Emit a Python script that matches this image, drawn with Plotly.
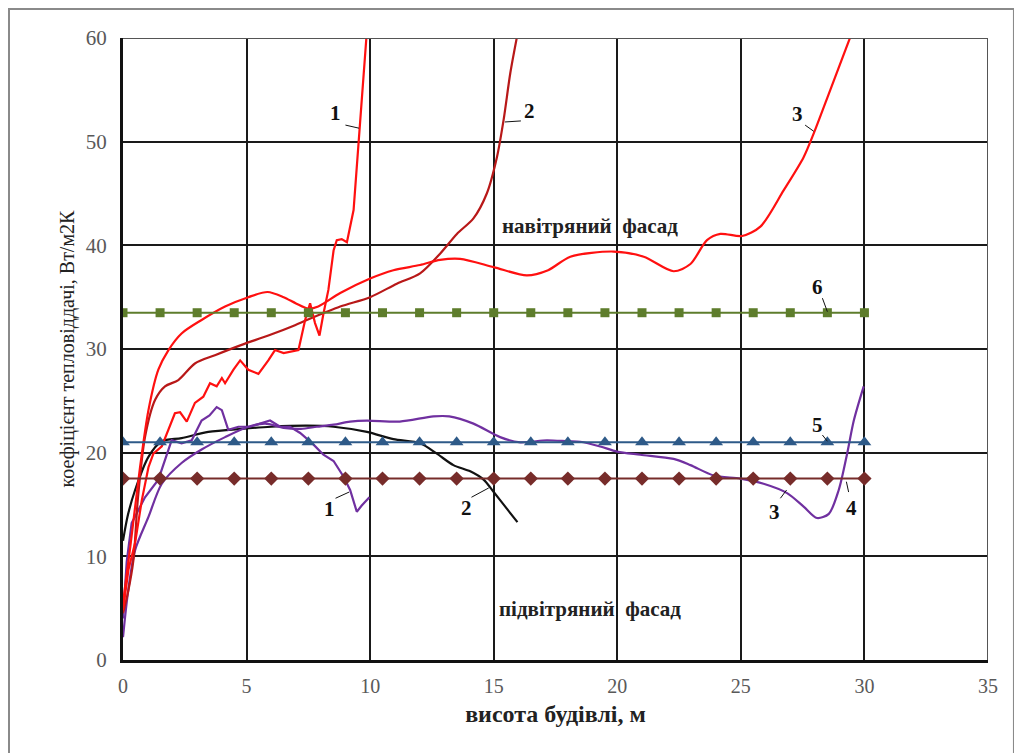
import plotly.graph_objects as go

# ---------------- data ----------------
marker_x = [0, 1.5, 3, 4.5, 6, 7.5, 9, 10.5, 12, 13.5, 15, 16.5, 18, 19.5, 21,
            22.5, 24, 25.5, 27, 28.5, 30]
line6_y = [33.5] * len(marker_x)
line5_y = [21.0] * len(marker_x)
line4_y = [17.5] * len(marker_x)

# windward, curve 1 (jagged, bright red)
w1_x = [0, 0.22, 0.49, 0.76, 1.03, 1.23, 1.57, 1.84, 2.1, 2.31, 2.58, 2.91, 3.25, 3.52,
        3.79, 4.0, 4.13, 4.47, 4.74, 5.07, 5.48, 5.88, 6.15, 6.5, 6.76, 7.1, 7.37, 7.57,
        7.77, 7.95, 8.11, 8.31, 8.52, 8.65, 8.85, 9.06, 9.33, 9.57, 9.85]
w1_y = [4.8, 8.7, 11.3, 15.4, 18.6, 19.9, 20.6, 22.2, 23.8, 23.9, 23.0, 24.8, 25.4, 26.7,
        26.4, 27.2, 26.7, 28.0, 28.9, 28.0, 27.6, 28.9, 29.9, 29.6, 29.7, 29.9, 32.8, 34.4,
        32.5, 31.3, 33.4, 35.7, 39.5, 40.5, 40.6, 40.3, 43.4, 51.4, 60.1]

# windward, curve 2 (dark red)
w2_x = [0, 0.2, 0.42, 0.6, 0.89, 1.3, 1.7, 2.24, 2.91, 3.72, 4.8, 5.88, 6.96, 7.44, 8.79,
        10.0, 11.08, 12.02, 12.83, 13.51, 14.18, 14.72, 15.13, 15.4, 15.67, 15.94]
w2_y = [4.5, 6.5, 9.6, 15.5, 21.5, 25.1, 26.4, 27.0, 28.6, 29.4, 30.4, 31.3, 32.3, 32.8,
        34.1, 35.0, 36.3, 37.3, 39.2, 41.1, 42.6, 45.0, 48.5, 52.1, 56.6, 60.1]

# windward, curve 3 (smooth bright red)
w3_x = [0, 0.3, 0.69, 1.03, 1.43, 1.84, 2.37, 3.18, 4.13, 5.07, 5.85, 6.5, 7.0, 7.5, 7.9,
        8.79, 10.0, 10.94, 12.02, 12.83, 13.64, 15.0, 16.34, 17.2, 18.1, 19.85, 21.07,
        22.28, 22.96, 23.63, 24.17, 25.05, 25.79, 26.73, 27.54, 27.95, 28.62, 29.43]
w3_y = [5.5, 11.0, 18.6, 24.1, 28.0, 29.9, 31.5, 32.8, 34.1, 35.0, 35.5, 35.0, 34.4, 33.9,
        34.1, 35.4, 36.8, 37.6, 38.1, 38.6, 38.7, 37.9, 37.1, 37.6, 38.9, 39.4, 38.9,
        37.5, 38.2, 40.5, 41.1, 40.9, 41.8, 45.3, 48.5, 50.8, 55.0, 60.1]

# leeward, curve 1 (jagged purple)
l1_x = [0, 0.15, 0.35, 0.89, 1.43, 1.84, 1.97, 2.37, 2.78, 3.18, 3.5, 3.79, 4.0, 4.26,
        4.67, 5.14, 5.6, 5.95, 6.36, 6.76, 7.17, 7.7, 8.11, 8.52, 8.92, 9.19, 9.46, 9.66,
        9.97]
l1_y = [4.0, 9.5, 13.2, 15.7, 17.4, 20.3, 21.2, 20.9, 21.2, 23.1, 23.6, 24.4, 24.1, 22.2,
        22.5, 22.5, 22.8, 23.1, 22.5, 22.5, 21.9, 20.8, 19.8, 19.2, 17.7, 16.4, 14.3, 14.9,
        15.7]

# leeward, curve 2 (black)
l2_x = [0, 0.2, 0.49, 1.03, 1.57, 2.37, 3.45, 4.8, 6.0, 7.44, 8.52, 9.87, 10.94, 12.02,
        12.7, 13.37, 14.05, 14.59, 15.0, 15.53, 15.96]
l2_y = [11.5, 14.0, 16.4, 19.6, 21.1, 21.4, 22.0, 22.3, 22.5, 22.6, 22.5, 22.0, 21.3, 20.9,
        19.9, 18.8, 18.2, 17.4, 16.2, 14.6, 13.3]

# leeward, curve 3 (long purple)
l3_x = [0, 0.2, 0.49, 1.03, 1.57, 2.37, 3.18, 4.13, 5.07, 5.75, 6.5, 7.2, 7.84, 8.52,
        9.19, 9.87, 11.2, 12.56, 13.2, 14.18, 15.26, 16.07, 17.15, 18.0, 18.5, 19.31,
        19.99, 20.93, 22.28, 22.96, 23.9, 24.98, 25.92, 26.87, 27.54, 28.08, 28.56,
        28.96, 29.3, 29.57, 29.97]
l3_y = [2.2, 6.5, 10.6, 13.8, 17.0, 19.0, 20.3, 21.5, 22.5, 22.8, 22.4, 22.3, 22.5, 22.7,
        23.0, 23.1, 23.0, 23.5, 23.5, 22.8, 21.5, 21.0, 21.2, 21.1, 21.05, 20.6, 20.1,
        19.8, 19.4, 18.8, 17.8, 17.5, 17.0, 16.1, 14.8, 13.7, 14.1, 16.4, 19.9, 23.1, 26.4]

# curve labels: text, label position, leader line start/end
labels = ["1", "2", "3", "6", "5", "4", "3", "1", "2"]
label_x = [8.58, 16.45, 27.3, 28.1, 28.1, 29.46, 26.35, 8.35, 13.9]
label_y = [52.8, 53.0, 52.7, 36.0, 22.7, 14.7, 14.3, 14.6, 14.7]
lead_x0 = [9.0, 16.1, 27.6, 28.3, 28.3, 29.36, 26.6, 8.6, 14.1]
lead_y0 = [51.6, 52.0, 51.6, 34.9, 21.7, 16.2, 15.6, 15.6, 15.7]
lead_x1 = [9.55, 15.45, 27.95, 28.5, 28.5, 29.27, 26.85, 9.15, 14.8]
lead_y1 = [51.3, 51.9, 51.0, 33.6, 21.1, 17.2, 16.4, 16.2, 16.6]

facade_text = ["навітряний&nbsp;&nbsp;фасад", "підвітряний&nbsp;&nbsp;фасад"]
facade_x = [18.9, 18.9]
facade_y = [41.9, 4.9]

x_title = "висота будівлі, м"
y_title = "коефіцієнт тепловіддачі, Вт/м2К"

# ---------------- figure ----------------
SERIF = "Liberation Serif"
fig = go.Figure()

def curve(x, y, color, shape="linear", width=2.2):
    fig.add_trace(go.Scatter(x=x, y=y, mode="lines",
                             line=dict(color=color, width=width, shape=shape,
                                       smoothing=0.8 if shape == "spline" else None),
                             showlegend=False, hoverinfo="skip"))

curve(l2_x, l2_y, "#111111", "spline")
curve(l1_x, l1_y, "#7030A0", "linear")
curve(l3_x, l3_y, "#7030A0", "spline")
curve(w2_x, w2_y, "#B81818", "spline")
curve(w1_x, w1_y, "#FF1010", "linear")
curve(w3_x, w3_y, "#FF1010", "spline")

fig.add_trace(go.Scatter(x=marker_x, y=line6_y, mode="lines+markers",
                         line=dict(color="#5E7D2C", width=2),
                         marker=dict(symbol="square", size=9, color="#5E7D2C"),
                         showlegend=False, hoverinfo="skip"))
fig.add_trace(go.Scatter(x=marker_x, y=line5_y, mode="lines+markers",
                         line=dict(color="#2E5A88", width=2),
                         marker=dict(symbol="triangle-up", size=12, color="#2E5A88"),
                         showlegend=False, hoverinfo="skip"))
fig.add_trace(go.Scatter(x=marker_x, y=line4_y, mode="lines+markers",
                         line=dict(color="#772C2A", width=2),
                         marker=dict(symbol="diamond", size=11, color="#772C2A"),
                         showlegend=False, hoverinfo="skip"))

for t, lx, ly, x0, y0, x1, y1 in zip(labels, label_x, label_y, lead_x0, lead_y0, lead_x1, lead_y1):
    fig.add_annotation(x=lx, y=ly, text=f"<b>{t}</b>", showarrow=False,
                       font=dict(family=SERIF, size=21, color="#111111"))
    fig.add_shape(type="line", x0=x0, y0=y0, x1=x1, y1=y1, xref="x", yref="y",
                  line=dict(color="#111111", width=1))

for t, fx, fy in zip(facade_text, facade_x, facade_y):
    fig.add_annotation(x=fx, y=fy, text=f"<b>{t}</b>", showarrow=False,
                       font=dict(family=SERIF, size=21, color="#222222"))

# top / right border of plot area
fig.add_shape(type="line", xref="x", yref="y", x0=0, y0=60, x1=35, y1=60,
              line=dict(color="#555555", width=2))
fig.add_shape(type="line", xref="x", yref="y", x0=35, y0=0, x1=35, y1=60,
              line=dict(color="#555555", width=2))
# outer frame
fig.add_shape(type="rect", xref="paper", yref="paper",
              x0=-0.1318, y0=-0.16, x1=1.030, y1=1.0466,
              line=dict(color="#8A8A8A", width=2), layer="below")

fig.update_xaxes(range=[0, 35], tickvals=[0, 5, 10, 15, 20, 25, 30, 35],
                 showgrid=True, gridcolor="#1A1A1A", gridwidth=1.5,
                 showline=True, linecolor="#111111", linewidth=3,
                 zeroline=False, ticks="", ticklabelstandoff=6,
                 tickfont=dict(family=SERIF, size=20, color="#595959"),
                 title=dict(text=f"<b>{x_title}</b>", standoff=10,
                            font=dict(family=SERIF, size=24, color="#222222")))
fig.update_yaxes(range=[0, 60], tickvals=[0, 10, 20, 30, 40, 50, 60],
                 showgrid=True, gridcolor="#1A1A1A", gridwidth=1.5,
                 showline=True, linecolor="#111111", linewidth=3,
                 zeroline=False, ticks="", ticklabelstandoff=9,
                 tickfont=dict(family=SERIF, size=21, color="#595959"),
                 title=dict(text=y_title, standoff=6,
                            font=dict(family=SERIF, size=20, color="#222222")))

fig.update_layout(width=1014, height=745,
                  margin=dict(l=115, r=34, t=30, b=93),
                  paper_bgcolor="white", plot_bgcolor="white",
                  showlegend=False)

fig.write_html("out.html")
